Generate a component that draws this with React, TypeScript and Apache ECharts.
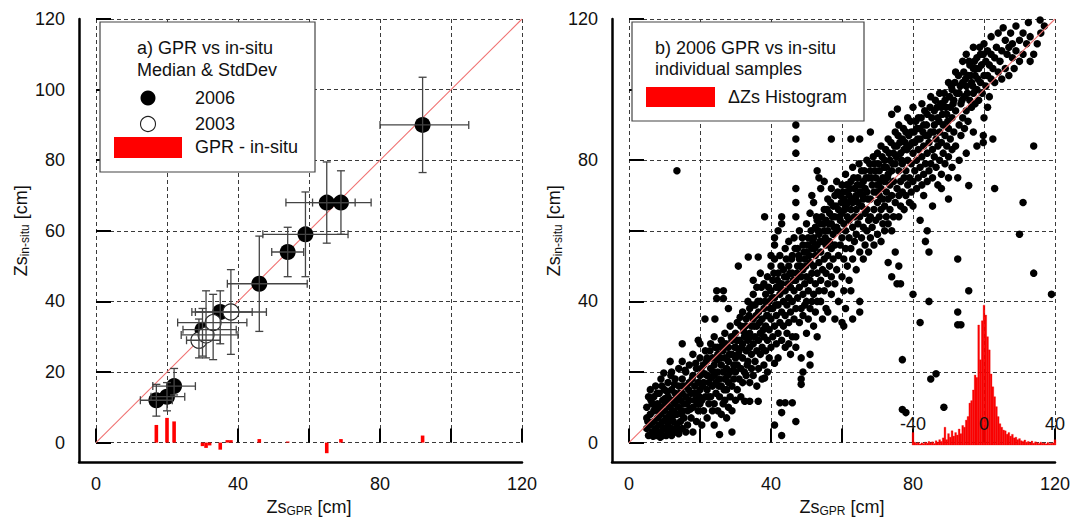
import React, { useEffect, useRef } from "react";
import * as echarts from "echarts";

// ---------- Panel a) medians & std devs ----------
const medGPR2006 = [17, 20, 22, 30, 35, 46, 54, 59, 65, 69, 92];
const medInSitu2006 = [12, 13, 16, 32, 37, 45, 54, 59, 68, 68, 90];
const gprLo2006 = [12.5, 15.5, 16, 24.5, 28, 37, 49.5, 47, 53.5, 61, 80];
const gprHi2006 = [21.5, 25, 28, 39.5, 44, 59.5, 58.5, 71, 73, 77.5, 105];
const inSituLo2006 = [7.5, 9, 13.5, 24.5, 28, 31.5, 47, 47, 56.5, 59, 76.5];
const inSituHi2006 = [16.5, 17, 21, 38, 43, 58.5, 61, 71, 79.5, 77, 103.5];

const medGPR2003 = [29, 31, 33, 38];
const medInSitu2003 = [29, 30.5, 34, 37];
const gprLo2003 = [25.5, 24, 23, 27];
const gprHi2003 = [35, 40, 42.5, 48];
const inSituLo2003 = [24, 24, 23.5, 25];
const inSituHi2003 = [35, 43, 42, 49];

const diffGPR = [17, 20, 22, 30, 31, 32, 35, 37, 38, 46, 54, 65, 69, 92];
const diffValue = [5, 7, 6, -1, -1.5, -0.8, -2, 0.7, 0.7, 1, 0.3, -3, 1, 2];

// ---------- Panel b) individual samples (GPR, in-situ) ----------
const samplePairs = `
5,4 5,7 5,10 5.5,2 5.5,13 6,5 6,8 6,15 6.5,3 6.5,11 7,6 7,9 7,13 7.5,2 7.5,4 7.5,16 8,7 8,11 8.5,3 8.5,5 8.5,14 9,8 9,10 9,18 9.5,2 9.5,6 9.5,12 9.8,19.7 10,4 10,9 10,15
10.5,2 10.5,7 10.5,11 11,3 11,5 11,13 11,17 11.5,8 11.5,10 11.6,23 12,2 12,4 12,12 12,15 12,20 12.5,6 12.5,9 13,3 13,11 13,14 13,18 13.5,5 13.5,8 13.5,77 14,2.5 14,10 14,16 14,21 14.5,6 14.5,12 15,4 15,9 15,14 15,18 15,23 15,28
15.5,7 15.5,11 16,3 16,13 16,16 16,20 16.5,5 16.5,9 17,12 17,17 17,22 17.5,7 17.5,14 18,3 18,10 18,19 18,25 18.5,12 18.5,16 19,6 19,14 19,21 19.5,9 19.5,17 19.5,29 20,11 20,15 20,19 20,24 20,28
20.5,5 20.5,12 21,9 21,17 21,22 21.4,35 21.5,13 21.5,26 22,7 22,15 22,19 22,24 22.5,11 22.5,17 23,13 23,21 23,28 23.5,9 23.5,16 23.5,24 24,5 24,11 24,19 24,22 24,30 24.2,35 24.5,14 24.5,17 24.7,40.8 24.7,43 25,9 25,20 25,25 25,27
25.5,2.3 25.5,13 25.5,18 26,8 26,16 26,22 26,29 26.5,11 26.5,20 26.5,26 26.6,40.8 26.6,43 27,12 27,18 27,24 27,31 27.5,7 27.5,15 27.5,21 28,10 28,17 28,23 28,27 28,38 28.5,13 28.5,20 28.5,33 29,3 29,9 29,16 29,25 29,29 29.5,18 29.5,22 30,12 30,20 30,24 30,27 30,31
30.5,15 30.5,22 30.5,34 30.8,50 31,18 31,26 31,29 31.5,13 31.5,21 31.5,33 32,17 32,24 32,28 32,37 32.6,11.7 32.5,20 32.5,30 33,19 33,26 33,35 33.6,52.6 33.5,23 33.5,29 33.5,40 34,11.7 34,17 34,27 34,31 34,38 34.5,21 34.5,25 34.5,33 35,19 35,28 35,35 35,42 35,46
35.5,23 35.5,30 35.5,39 36,16 36,26 36,33 36,44 36.4,11.7 36.4,52.6 36.5,21 36.5,29 36.5,37 37,25 37,31 37,40 37,48 37.5,18 37.5,27 37.5,35 38,22 38,30 38,38 38,45 38.2,64 38.2,18.3 38.5,26 38.5,33 38.5,42 39,20 39,29 39,36 39,47 39.5,24 39.5,32 39.5,40 40,27 40,35 40,43 40,50 40,53
40.5,30 40.5,38 40.5,46 41,5 41,22.5 41,33 41,41 41,52 41,56 41,58 41.5,28 41.5,36 41.5,44 42,24 42,31 42,39 42,48 42,60 42.5,11.3 42.5,34 42.5,42 42.5,53 43,2 43,8.5 43,29 43,37 43,45 43,62 43,64 43.5,33 43.5,40 43.5,49 44,11.3 44,27 44,36 44,43 44,55 44.5,31 44.5,39 44.5,47 45,28 45,34 45,41 45,50 45,57
45.5,25 45.5,37 45.5,44 46,11.3 46,30 46,40 46,48 46,53 46.5,35 46.5,43 46.5,58 47,6 47,27 47,30 47,38 47,46 47,64 47,68 47,72 47,82 47,86 47,90 47.5,41 47.5,50 47.5,55 48,34 48,44 48,52 48,60 48.5,16.5 48.5,18 48.5,24 48.5,38 48.5,47 49,20 49,36 49,42 49,49 49,56 49.5,39 49.5,45 49.5,52 50,31 50,40 50,47 50,54 50,62
50.5,35 50.5,43 50.5,58 51,22 51,25 51,38 51,46 51,51 51,65 51.5,40 51.5,48 51.5,55 51.5,70 52,33 52,42 52,50 52,58 52,68 52.5,37 52.5,45 52.5,53 52.5,61 53,30 53,40 53,48 53,56 53,63 53,77 53.5,43 53.5,51 53.5,59 53.5,75 54,40 54,46 54,54 54,62 54,72 54.5,35 54.5,49 54.5,57 55,43 55,52 55,60 55,66 55,74
55.5,38 55.5,48 55.5,56 55.5,63 56,37 56,45 56,53 56,60 56,69 56.5,50 56.5,57 56.5,65 57,42 57,47 57,55 57,62 57,72 57,86 57.5,52 57.5,59 57.5,67 58,35 58,45 58,56 58,64 58,70 58.5,49 58.5,61 58.5,74 59,40 59,53 59,60 59,66 59.5,56 59.5,63 59.5,70 60,34 60,47 60,58 60,65 60,73
60.5,33 60.5,43 60.5,52 60.5,62 60.5,69 61,38 61,55 61,60 61,67 61,76 61.5,50 61.5,64 61.5,71 62,46 62,58 62,63 62,70 62.5,43 62.5,55 62.5,66 62.5,74 62.5,86 63,35 63,52 63,61 63,68 63,78 63.5,57 63.5,64 63.5,72 64,49 64,59 64,66 64,70 64.5,62 64.5,68 64.5,75 65,37 65,40 65,54 65,64 65,71 65,86
65.5,58 65.5,67 65.5,77 66,52 66,61 66,69 66,74 66.5,56 66.5,65 66.5,72 67,60 67,66 67,71 67,80 67.5,54 67.5,63 67.5,75 68,58 68,64 68,69 68,77 68,88 68.5,61 68.5,73 69,56 69,66 69,71 69,79 69.5,63 69.5,75 70,59 70,68 70,73 70,82
70.5,64 70.5,70 70.5,77 71,57 71,66 71,72 71,84 71.5,62 71.5,69 71.5,75 72,60 72,67 72,74 72,80 72.5,64 72.5,71 72.5,78 73,51 73,62 73,69 73,76 73,86 73.5,66 73.5,73 73.5,80 74,47 74,60 74,70 74,77 74,93 74.5,64 74.5,74 74.5,82 75,54 75,68 75,79 75,88
75.5,45 75.5,72 75.5,84 75.6,94.5 76,50 76,64 76,70 76,77 76,90 76.5,45 76.5,67 76.5,74 76.5,82 77,9.4 77,23.5 77,71 77,79 77,86 77.5,66 77.5,75 77.5,83 78,8.5 78,70 78,77 78,88 78.5,73 78.5,80 78.5,92 79,68 79,75 79,84 79.5,71 79.5,79 79.5,88 80,42 80,67 80,74 80,82 80,95
80.5,77 80.5,85 81,72 81,80 81,89 81.5,75 81.5,83 81.5,92 82,34 82,63 82,78 82,86 82.5,73 82.5,81 82.5,96 83,70 83,76 83,84 83,90 83.5,57 83.5,79 83.5,87 84,60 84,74 84,82 84,93 84.5,40 84.5,54 84.5,77 84.5,85 85,18 85,79 85,88 85,98
85.5,67 85.5,75 85.5,83 86,81 86,90 86,94 86.5,19.5 86.5,78 86.5,86 87,73 87,84 87,92 87.5,80 87.5,88 87.5,99 88,72 88,76 88,85 88,95 88.5,82 88.5,90 88.7,10 89,79 89,87 89,97 89.5,84 89.5,93 90,69 90,75 90,81 90,89 90,102
90.5,86 90.5,95 91,78 91,83 91,92 91,100 91.5,88 91.5,97 92,84 92,94 92,105 92.6,33.4 92.6,37 92.6,52 92.6,75 93,80 93,90 93,99 93.5,33.4 93.5,87 93.5,96 94,92 94,102 94,108 94.5,89 94.5,98 95,82 95,94 95,101 95,110
95.5,91 95.5,104 95.7,43 95.7,72.8 96,97 96,107 96.5,95 96.5,102 97,88 97,99 97,106 97,112 97.5,96 97.5,104 98,84 98,100 98,109 98.5,97 98.5,106 99,102 99,110 99.5,99 99.8,85 99.8,87 100,92 100,104 100,113
100.5,101 100.5,108 101,95 101,104 101,111 101.5,98 101.5,107 102,103 102,110 102,115 102.5,86 102.5,106 103,72 103,102 103,109 103.5,112 104,105 104,116 104.5,108 105,103 105,111 105.4,117.5
106,106 106,114 106.5,110 107,104 107,112 107.5,116 108,109 108,113 108.5,106 109,111 109,118 110,59 110,108 110,114
111,68 111,110 111,116 112,113 112.5,119 113,108 113,115 114,48 114,84 114,110 115,113 115.8,119.7 116,116 117,118 119,42
5.3,6 6.2,12 6.8,1.8 7.3,10.5 7.9,14 8.3,9 8.8,1.5 9.3,16 9.7,4 10.2,12.5 10.8,14.5 11.3,6.5 11.8,19 12.3,7.5 12.8,16.5 13.3,12.5 13.8,3.5 14.3,14 14.8,8 15.3,16 15.8,20.5 16.3,11 16.8,15 17.3,9.5 17.8,18 18.3,14 18.8,22.5 19.3,11 19.8,13
20.3,21 20.8,16 21.3,19.5 21.8,23 22.3,13 22.8,26 23.3,18.5 23.8,20 24.3,27 24.8,23.5 25.3,16 25.8,24 26.3,27.5 26.8,15 27.3,28 27.8,19 28.3,25 28.8,30 29.3,20.5 29.8,27 30.3,29 30.8,25 31.3,35.5 31.8,27 32.3,31.5 32.8,33 33.3,22 33.8,36 34.3,30 34.8,39 35.3,33 35.8,36 36.3,40 36.8,34 37.3,44 37.8,32 38.3,40 38.8,36 39.3,44 39.8,38
40.3,41 40.8,48 41.3,39 41.8,46 42.3,44 42.8,50 43.3,43 43.8,47 44.3,52 44.8,45 45.3,48 45.8,52 46.3,46 46.8,55 47.3,48 47.8,53 48.3,50 48.8,58 49.3,54 49.8,50 50.3,56 50.8,53 51.3,60 51.8,57 52.3,55 52.8,64 53.3,60 53.8,57 54.3,64 54.8,62 55.3,58 55.8,66 56.3,62 56.8,68 57.3,64 57.8,61 58.3,67 58.8,71 59.3,64 59.8,68
60.3,71 60.8,66 61.3,73 61.8,68 62.3,72 62.8,69 63.3,75 63.8,69 64.3,73 64.8,79 65.3,73 65.8,70 66.3,77 66.8,75 67.3,69 67.8,79 68.3,75 68.8,81 69.3,77 69.8,71 70.3,79 70.8,74 71.3,81 71.8,78 72.3,83 72.8,75 73.3,82 73.8,85 74.3,79 74.8,84 75.3,81 75.8,87 76.3,85 76.8,80 77.3,89 77.8,85 78.3,83 78.8,87 79.3,91 79.8,85
80.3,88 80.8,91 81.3,86 81.8,89 82.3,92 82.8,88 83.3,94 83.8,90 84.3,87 84.8,95 85.3,92 85.8,88 86.3,97 86.8,95 87.3,91 87.8,96 88.3,93 88.8,99 89.3,95 89.8,91 90.3,98 90.8,101 91.3,96 91.8,102 92.3,99 92.8,104 93.3,101 93.8,97 94.3,105 94.8,103 95.3,99 95.8,108 96.3,104 96.8,101 97.3,108 97.8,106 98.3,103 98.8,112 99.3,107 99.8,110
`;

// ---------- ΔZs histogram (bin centre in cm, bar height in figure units) ----------
const histDelta = [
  -40, -39, -38, -37, -36, -35, -34, -33, -32, -31, -30, -29, -28, -27, -26, -25, -24, -23, -22, -21,
  -20, -19, -18, -17, -16, -15, -14, -13, -12, -11, -10, -9, -8, -7, -6, -5, -4, -3, -2, -1,
  0, 1, 2, 3, 4, 5, 6, 7, 8, 9, 10, 11, 12, 13, 14, 15, 16, 17, 18, 19,
  20, 21, 22, 23, 24, 25, 26, 27, 28, 29, 30, 31, 32, 33, 34, 35, 36, 37, 38, 39, 40,
];
const histHeight = [
  3.5, 0.8, 0.5, 0.7, 0.3, 0.6, 0.4, 0.8, 0.5, 1.0, 0.6, 0.9, 0.4, 1.2, 0.8, 1.5, 1.0, 2.0, 5.0, 1.5,
  3.2, 2.2, 4.0, 2.5, 3.5, 2.8, 4.5, 3.2, 5.5, 5.0, 7.0, 8.0, 11.8, 12.5, 15.5, 19.7, 19.0, 33.8, 24.0, 35.0,
  39.4, 36.6, 30.5, 26.8, 20.0, 16.4, 13.6, 10.8, 8.0, 6.0, 5.0, 4.2, 4.0, 3.0, 3.5, 2.5, 3.0, 2.0, 2.2, 1.5,
  1.8, 1.2, 1.0, 1.4, 0.8, 1.0, 0.6, 1.1, 0.5, 0.9, 0.7, 0.4, 0.8, 0.5, 0.6, 0.3, 0.7, 0.4, 0.5, 0.6, 1.5,
];

const xTickLabelsEvery = 40;
const yTickLabelsEveryA = 20;
const yTickLabelsEveryB = 40;

const FONT = "'Liberation Sans', Arial, Helvetica, sans-serif";
const TXT = "#111";

export default function App() {
  const ref = useRef<HTMLDivElement>(null);

  useEffect(() => {
    if (!ref.current) return;
    const chart = echarts.init(ref.current, null, { renderer: "svg" });

    const samples = samplePairs
      .trim()
      .split(/\s+/)
      .map((p) => p.split(",").map(Number));

    const med2006 = medGPR2006.map((x, i) => [x, medInSitu2006[i], gprLo2006[i], gprHi2006[i], inSituLo2006[i], inSituHi2006[i]]);
    const med2003 = medGPR2003.map((x, i) => [x, medInSitu2003[i], gprLo2003[i], gprHi2003[i], inSituLo2003[i], inSituHi2003[i]]);
    const diffData = diffGPR.map((x, i) => [x, diffValue[i]]);
    const histData = histDelta.map((d, i) => [d, histHeight[i]]);

    const rich = { sub: { fontSize: 12, padding: [9, 0, 0, 0], fontFamily: FONT, color: TXT } };
    const nameStyle = { fontSize: 18, color: TXT, fontFamily: FONT, rich };

    const dataX = (gi: number) => ({
      type: "value",
      gridIndex: gi,
      min: 0,
      max: 120,
      interval: 20,
      offset: 17,
      position: "bottom",
      name: "Zs{sub|GPR} [cm]",
      nameLocation: "middle",
      nameGap: 34,
      nameTextStyle: nameStyle,
      axisLine: { show: false },
      axisTick: { show: true, inside: true, length: 14, lineStyle: { color: "#000", width: 2 } },
      axisLabel: {
        fontSize: 18,
        color: TXT,
        fontFamily: FONT,
        margin: 15,
        formatter: (v: number) => (v % xTickLabelsEvery === 0 ? String(v) : ""),
      },
      splitLine: { show: true, lineStyle: { color: "#3a3a3a", width: 1, type: [4, 3] } },
    });
    const dataY = (gi: number, every: number) => ({
      type: "value",
      gridIndex: gi,
      min: 0,
      max: 120,
      interval: 20,
      offset: 17,
      position: "left",
      name: "Zs{sub|in-situ} [cm]",
      nameLocation: "middle",
      nameRotate: 90,
      nameGap: 46,
      nameTextStyle: nameStyle,
      axisLine: { show: false },
      axisTick: { show: true, inside: true, length: 15, lineStyle: { color: "#000", width: 2 } },
      axisLabel: {
        fontSize: 18,
        color: TXT,
        fontFamily: FONT,
        margin: 14,
        formatter: (v: number) => (v % every === 0 ? String(v) : ""),
      },
      splitLine: { show: true, lineStyle: { color: "#3a3a3a", width: 1, type: [4, 3] } },
    });
    const frameAxis = (gi: number) => ({
      type: "value",
      gridIndex: gi,
      min: 0,
      max: 1,
      axisLine: { show: true, lineStyle: { color: "#000", width: 2.5 } },
      axisTick: { show: false },
      axisLabel: { show: false },
      splitLine: { show: false },
    });

    const errRender = (params: any, api: any) => {
      const x = api.value(0), y = api.value(1);
      const pL = api.coord([api.value(2), y]);
      const pR = api.coord([api.value(3), y]);
      const pB = api.coord([x, api.value(4)]);
      const pT = api.coord([x, api.value(5)]);
      const c = 4;
      const style = { stroke: "#444", lineWidth: 1.3 };
      const ln = (x1: number, y1: number, x2: number, y2: number) => ({ type: "line", shape: { x1, y1, x2, y2 }, style });
      return {
        type: "group",
        children: [
          ln(pL[0], pL[1], pR[0], pR[1]),
          ln(pL[0], pL[1] - c, pL[0], pL[1] + c),
          ln(pR[0], pR[1] - c, pR[0], pR[1] + c),
          ln(pB[0], pB[1], pT[0], pT[1]),
          ln(pB[0] - c, pB[1], pB[0] + c, pB[1]),
          ln(pT[0] - c, pT[1], pT[0] + c, pT[1]),
        ],
      };
    };

    const diffRender = (params: any, api: any) => {
      const p0 = api.coord([api.value(0), 0]);
      const p1 = api.coord([api.value(0), api.value(1)]);
      return {
        type: "rect",
        shape: { x: p0[0] - 1.8, y: Math.min(p0[1], p1[1]), width: 3.6, height: Math.abs(p1[1] - p0[1]) },
        style: { fill: "#ff0000" },
      };
    };

    const histRender = (params: any, api: any) => {
      const a = api.coord([api.value(0) - 0.5, api.value(1)]);
      const b = api.coord([api.value(0) + 0.5, 0]);
      return {
        type: "rect",
        shape: { x: a[0], y: a[1], width: b[0] - a[0], height: b[1] - a[1] },
        style: { fill: "#ff0000", stroke: "#e00000", lineWidth: 0.3 },
      };
    };

    const txt = (text: string, x: number, y: number, align = "left") => ({
      type: "text",
      x,
      y,
      z: 101,
      style: { text, font: `18px ${FONT}`, fill: TXT, align, verticalAlign: "middle" },
    });

    const option: any = {
      animation: false,
      backgroundColor: "#ffffff",
      textStyle: { fontFamily: FONT },
      grid: [
        { left: 96, top: 19, width: 426, height: 426 },
        { left: 629, top: 19, width: 426, height: 426 },
        { left: 79, top: 19, width: 443, height: 443 },
        { left: 612, top: 19, width: 443, height: 443 },
        { left: 913, top: 303, width: 142, height: 142 },
      ],
      xAxis: [
        dataX(0),
        dataX(1),
        frameAxis(2),
        frameAxis(3),
        {
          type: "value",
          gridIndex: 4,
          min: -40,
          max: 40,
          interval: 40,
          axisLine: { show: false },
          axisTick: { show: false },
          splitLine: { show: false },
          axisLabel: { inside: true, margin: 12, fontSize: 18, color: TXT, fontFamily: FONT },
          z: 10,
        },
      ],
      yAxis: [
        dataY(0, yTickLabelsEveryA),
        dataY(1, yTickLabelsEveryB),
        frameAxis(2),
        frameAxis(3),
        { type: "value", gridIndex: 4, min: 0, max: 40, show: false },
      ],
      series: [
        // panel a
        {
          type: "line",
          xAxisIndex: 0,
          yAxisIndex: 0,
          data: [[0, 0], [120, 120]],
          symbol: "none",
          lineStyle: { color: "#f07272", width: 1.1 },
          z: 1,
          silent: true,
        },
        {
          type: "custom",
          xAxisIndex: 0,
          yAxisIndex: 0,
          data: diffData,
          renderItem: diffRender,
          z: 1,
        },
        {
          type: "scatter",
          xAxisIndex: 0,
          yAxisIndex: 0,
          data: med2006.map((d) => [d[0], d[1]]),
          symbolSize: 16,
          itemStyle: { color: "#000", opacity: 1 },
          z: 2,
        },
        {
          type: "scatter",
          xAxisIndex: 0,
          yAxisIndex: 0,
          data: med2003.map((d) => [d[0], d[1]]),
          symbolSize: 16,
          itemStyle: { color: "#ffffff", borderColor: "#222", borderWidth: 1.1, opacity: 1 },
          z: 3,
        },
        {
          type: "custom",
          xAxisIndex: 0,
          yAxisIndex: 0,
          data: med2006.concat(med2003),
          renderItem: errRender,
          z: 4,
        },
        // panel b
        {
          type: "scatter",
          xAxisIndex: 1,
          yAxisIndex: 1,
          data: samples,
          symbolSize: 7.5,
          itemStyle: { color: "#000", opacity: 1 },
          z: 2,
        },
        {
          type: "line",
          xAxisIndex: 1,
          yAxisIndex: 1,
          data: [[0, 0], [120, 120]],
          symbol: "none",
          lineStyle: { color: "#f07272", width: 1.1 },
          z: 3,
          silent: true,
        },
        {
          type: "custom",
          xAxisIndex: 4,
          yAxisIndex: 4,
          data: histData,
          renderItem: histRender,
          z: 4,
        },
      ],
      graphic: [
        // legend a
        {
          type: "rect",
          z: 100,
          shape: { x: 100, y: 22, width: 215, height: 150 },
          style: { fill: "#ffffff", stroke: "#444", lineWidth: 1.2 },
        },
        txt("a) GPR vs in-situ", 205, 48, "center"),
        txt("Median & StdDev", 207, 70, "center"),
        { type: "circle", z: 101, shape: { cx: 148, cy: 98, r: 7.5 }, style: { fill: "#000" } },
        txt("2006", 195, 98),
        { type: "circle", z: 101, shape: { cx: 148, cy: 124, r: 7.5 }, style: { fill: "#fff", stroke: "#222", lineWidth: 1.1 } },
        txt("2003", 195, 124),
        { type: "rect", z: 101, shape: { x: 114, y: 137, width: 68, height: 21 }, style: { fill: "#ff0000" } },
        txt("GPR - in-situ", 195, 147),
        // legend b
        {
          type: "rect",
          z: 100,
          shape: { x: 632, y: 22, width: 232, height: 99 },
          style: { fill: "#ffffff", stroke: "#444", lineWidth: 1.2 },
        },
        txt("b) 2006 GPR vs in-situ", 655, 48),
        txt("individual samples", 655, 69),
        { type: "rect", z: 101, shape: { x: 646, y: 87, width: 69, height: 20 }, style: { fill: "#ff0000" } },
        txt("\u0394Zs Histogram", 728, 97),
      ],
    };

    chart.setOption(option);
    return () => chart.dispose();
  }, []);

  return (
    <div
      ref={ref}
      style={{ position: "fixed", left: 0, top: 0, width: 1087, height: 522, background: "#fff" }}
    />
  );
}
